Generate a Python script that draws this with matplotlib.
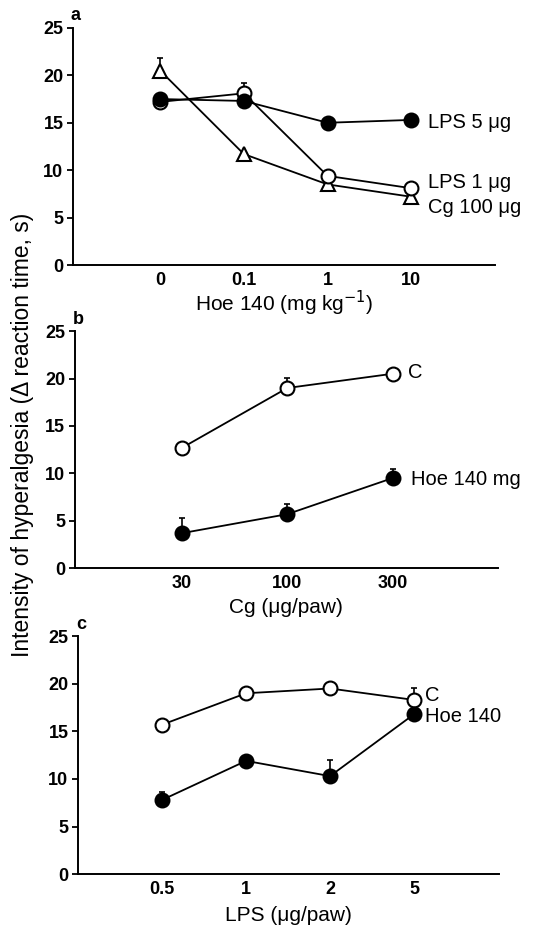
import matplotlib
matplotlib.use("Agg")
import matplotlib.pyplot as plt

plt.rcParams['font.family'] = ['Liberation Sans', 'DejaVu Sans']

# Panel a
a_cats = ['0', '0.1', '1', '10']
a_lps5 = [17.5, 17.3, 15.0, 15.3]
a_lps1 = [17.2, 18.1, 9.4, 8.1]
a_lps1_err = [0, 1.1, 0, 0]
a_cg100 = [20.5, 11.7, 8.5, 7.2]
a_cg100_err = [1.3, 0, 0, 0]

# Panel b
b_cats = ['30', '100', '300']
b_c = [12.7, 19.0, 20.5]
b_c_err = [0, 1.1, 0]
b_hoe = [3.7, 5.7, 9.5]
b_hoe_err = [1.6, 1.1, 1.0]

# Panel c
c_cats = ['0.5', '1', '2', '5']
c_c = [15.7, 19.0, 19.5, 18.3]
c_c_err = [0, 0, 0, 1.2]
c_hoe = [7.8, 11.9, 10.3, 16.8]
c_hoe_err = [0.8, 0, 1.7, 0]

fig = plt.figure(figsize=(5.58, 9.3), dpi=100)

axa = fig.add_axes([0.131, 0.715, 0.756, 0.255])
axb = fig.add_axes([0.134, 0.389, 0.758, 0.255])
axc = fig.add_axes([0.140, 0.060, 0.754, 0.256])

ms = 10
lw = 1.3

def series(ax, y, err, marker, filled, z=3):
    x = list(range(len(y)))
    ax.errorbar(x, y, yerr=[[0]*len(y), err], fmt='none', ecolor='black',
                elinewidth=1.2, capsize=2.0, capthick=1.2, zorder=z-1)
    ax.plot(x, y, color='black', lw=lw, marker=marker, markersize=ms,
            markerfacecolor='black' if filled else 'white',
            markeredgecolor='black', markeredgewidth=1.5, zorder=z)

def style(ax, cats, xlim, xlabel, letter, labelpad=5):
    ax.set_xlim(*xlim)
    ax.set_ylim(0, 25)
    ax.set_yticks([0, 5, 10, 15, 20, 25])
    ax.set_xticks(range(len(cats)))
    ax.set_xticklabels(cats)
    for s in ['top', 'right']:
        ax.spines[s].set_visible(False)
    for s in ['left', 'bottom']:
        ax.spines[s].set_linewidth(1.4)
    ax.tick_params(axis='y', direction='out', length=4, width=1.3,
                   labelsize=13, pad=3)
    ax.tick_params(axis='x', length=0, labelsize=13, pad=5)
    for t in ax.get_xticklabels() + ax.get_yticklabels():
        t.set_fontweight('bold')
    ax.set_xlabel(xlabel, fontsize=15, labelpad=labelpad)
    ax.text(-0.005, 1.015, letter, transform=ax.transAxes, fontsize=13,
            fontweight='bold', ha='left', va='bottom')
    ax.patch.set_alpha(0)

# a
series(axa, a_cg100, a_cg100_err, '^', False)
series(axa, a_lps1, a_lps1_err, 'o', False)
series(axa, a_lps5, [0]*4, 'o', True, z=4)
style(axa, a_cats, (-1.04, 4.0), 'Hoe 140 (mg kg$^{-1}$)', 'a', labelpad=0)
axa.text(3.2, 15.0, 'LPS 5 μg', fontsize=14.5, va='center')
axa.text(3.2, 8.7, 'LPS 1 μg', fontsize=14.5, va='center')
axa.text(3.2, 6.1, 'Cg 100 μg', fontsize=14.5, va='center')

# b
series(axb, b_c, b_c_err, 'o', False)
series(axb, b_hoe, b_hoe_err, 'o', True)
style(axb, b_cats, (-1.02, 3.0), 'Cg (μg/paw)', 'b', labelpad=4)
axb.text(2.15, 20.6, 'C', fontsize=14.5, va='center')
axb.text(2.18, 9.4, 'Hoe 140 mg', fontsize=14.5, va='center', clip_on=False)

# c
series(axc, c_c, c_c_err, 'o', False)
series(axc, c_hoe, c_hoe_err, 'o', True)
style(axc, c_cats, (-1.0, 4.01), 'LPS (μg/paw)', 'c', labelpad=6)
axc.text(3.13, 18.8, 'C', fontsize=14.5, va='center')
axc.text(3.13, 16.6, 'Hoe 140', fontsize=14.5, va='center')

fig.text(0.041, 1 - 435/930, 'Intensity of hyperalgesia (Δ reaction time, s)',
         rotation=90, fontsize=16.5, ha='center', va='center')

fig.savefig('out.png', dpi=100)
